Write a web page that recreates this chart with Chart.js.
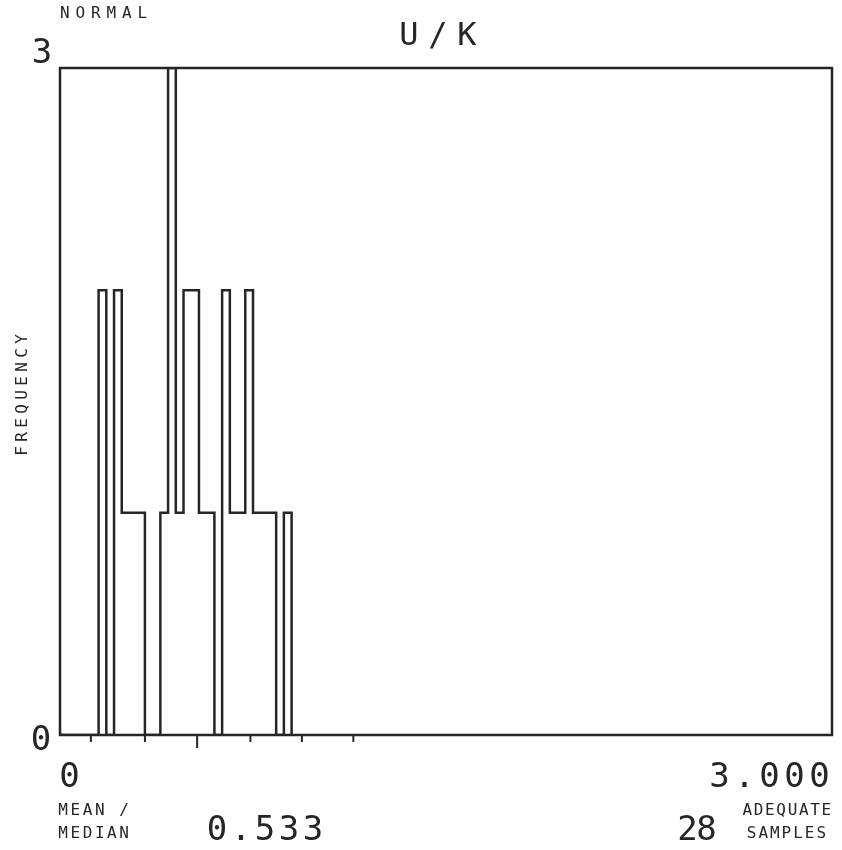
<!DOCTYPE html>
<html>
<head>
<meta charset="utf-8">
<title>U/K frequency</title>
<script src="https://cdn.jsdelivr.net/npm/chart.js@4.4.1/dist/chart.umd.min.js"></script>
<style>
  html, body { margin: 0; padding: 0; background: #fff; }
  #wrap { width: 842px; height: 850px; }
</style>
</head>
<body>
<div id="wrap"><canvas id="hist" width="842" height="850"></canvas></div>
<script>
// U/K histogram, bins of 0.03 (start of each bin)
const binStarts = [0.15, 0.18, 0.21, 0.24, 0.27, 0.30, 0.33, 0.36, 0.39, 0.42, 0.45, 0.48, 0.51,
                   0.54, 0.57, 0.60, 0.63, 0.66, 0.69, 0.72, 0.75, 0.78, 0.81, 0.84, 0.87];
const counts = [2, 0, 2, 1, 1, 1, 0, 0, 1, 3, 1, 2, 2, 1, 1, 0, 2, 1, 1, 2, 1, 1, 1, 0, 1];
const binWidth = 0.03;

// marks under the x axis (mean and sd steps), the mean one is longer
const markValues = [0.12, 0.33, 0.533, 0.74, 0.94, 1.14];
const meanValue = 0.533;

const xRange = [0, 3];
const yRange = [0, 3];
const xEndLabels = ['0', '3.000'];
const yEndLabels = ['0', '3'];
const sampleCount = 28;

const INK = '#262626';
const FONT = "'DejaVu Sans Mono', monospace";

// step outline: baseline, then each bin top, then back to baseline
function buildOutline() {
    const pts = [{ x: xRange[0], y: 0 }];
    binStarts.forEach((b, i) => pts.push({ x: b, y: counts[i] }));
    pts.push({ x: binStarts[binStarts.length - 1] + binWidth, y: 0 });
    return pts;
}

// plotter style text: one glyph per fixed cell
function plotText(ctx, str, x, y, size, pitch, align) {
    const total = pitch * str.length;
    let start = x;
    if (align === 'right') start = x - total;
    if (align === 'center') start = x - total / 2;
    ctx.font = `${size}px ${FONT}`;
    ctx.textAlign = 'center';
    ctx.textBaseline = 'alphabetic';
    for (let i = 0; i < str.length; i++) {
        ctx.fillText(str[i], start + pitch * (i + 0.5), y);
    }
}

const plotterFrame = {
    id: 'plotterFrame',
    afterDraw(chart) {
        const { ctx, chartArea: a, scales } = chart;
        const xs = scales.x, ys = scales.y;
        ctx.save();
        ctx.strokeStyle = INK;
        ctx.fillStyle = INK;
        ctx.lineWidth = 2.5;
        ctx.strokeRect(a.left, a.top, a.right - a.left, a.bottom - a.top);

        // marks below the axis
        ctx.lineWidth = 2;
        markValues.forEach(v => {
            const px = xs.getPixelForValue(v);
            const len = v === meanValue ? 13 : 7;
            ctx.beginPath();
            ctx.moveTo(px, a.bottom);
            ctx.lineTo(px, a.bottom + len);
            ctx.stroke();
        });

        // y end labels, the top one sits above the frame
        plotText(ctx, yEndLabels[1], 42, ys.getPixelForValue(yRange[1]) - 5, 34, 20, 'center');
        plotText(ctx, yEndLabels[0], 41, ys.getPixelForValue(yRange[0]) + 15, 34, 20, 'center');

        // x end labels
        plotText(ctx, xEndLabels[0], xs.getPixelForValue(xRange[0]) - 3, a.bottom + 52, 34, 25, 'left');
        plotText(ctx, xEndLabels[1], xs.getPixelForValue(xRange[1]), a.bottom + 52, 34, 25, 'right');

        plotText(ctx, 'NORMAL', 57, 18, 16, 15.5, 'left');
        plotText(ctx, 'U/K', 438, 45, 32, 29, 'center');

        ctx.save();
        ctx.translate(27, 395);
        ctx.rotate(-Math.PI / 2);
        plotText(ctx, 'FREQUENCY', 0, 0, 16, 14, 'center');
        ctx.restore();

        plotText(ctx, 'MEAN /', 57, 815, 16, 12.2, 'left');
        plotText(ctx, 'MEDIAN', 57, 838, 16, 12.2, 'left');
        plotText(ctx, meanValue.toFixed(3), 205, 840, 34, 24, 'left');
        plotText(ctx, String(sampleCount), 716, 840, 34, 19, 'right');
        plotText(ctx, 'ADEQUATE', 832, 815, 16, 11.3, 'right');
        plotText(ctx, 'SAMPLES', 827, 838, 16, 11.6, 'right');
        ctx.restore();
    }
};

new Chart(document.getElementById('hist'), {
    type: 'line',
    data: {
        datasets: [{
            data: buildOutline(),
            // 'before' keeps the previous bin height up to the next bin edge
            stepped: 'before',
            borderColor: INK,
            borderWidth: 2.5,
            pointRadius: 0,
            fill: false
        }]
    },
    options: {
        responsive: false,
        devicePixelRatio: 1,
        animation: false,
        layout: { padding: { left: 60, right: 10, top: 68, bottom: 115 } },
        plugins: { legend: { display: false }, tooltip: { enabled: false } },
        scales: {
            x: { type: 'linear', min: xRange[0], max: xRange[1], display: false },
            y: { min: yRange[0], max: yRange[1], display: false }
        }
    },
    plugins: [plotterFrame]
});
</script>
</body>
</html>
